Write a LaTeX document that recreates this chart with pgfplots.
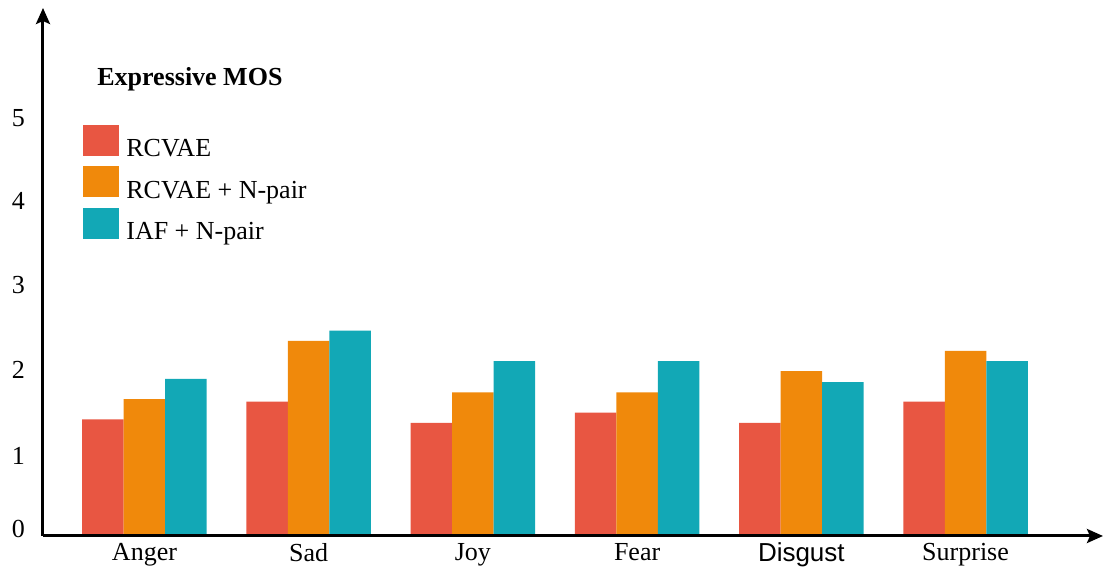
\documentclass[border=0pt]{standalone}
\usepackage{pgfplots}
\pgfplotsset{compat=1.18}
\usepackage{pgfplotstable}
\usepackage{fontspec}
\setmainfont{Liberation Serif}
\setsansfont{Liberation Sans}
\usetikzlibrary{arrows.meta}
\definecolor{cRed}{RGB}{232,86,66}
\definecolor{cOrange}{RGB}{240,137,11}
\definecolor{cTeal}{RGB}{18,168,182}
\pgfplotstableread{
x a b c
0 1.38 1.62 1.86
1 1.59 2.31 2.43
2 1.34 1.70 2.07
3 1.46 1.70 2.07
4 1.34 1.95 1.82
5 1.59 2.19 2.07
}\mos
\pgfplotsset{sqlegend/.style={legend image code/.code={\fill[##1] (0pt,0.5pt) rectangle (18pt,16pt);}}}
\begin{document}
\begin{tikzpicture}[font=\fontsize{13}{15.6}\selectfont]
\useasboundingbox (-21.5pt,-17.5pt) rectangle (531pt,268pt);
\begin{axis}[
  at={(0,0)}, anchor=south west,
  scale only axis, width=530pt, height=264pt,
  xmin=-0.618, xmax=5.837, ymin=0, ymax=6.249,
  axis lines=left,
  axis on top,
  axis line style={line width=1.5pt, -{Stealth[length=8pt,width=7pt,inset=1.5pt]}},
  ybar=0pt, bar width=20.75pt,
  xtick={0,1,2,3,4,5},
  xticklabels={Anger,Sad,Joy,Fear,{\sffamily Disgust},Surprise},
  ytick={0.083,0.947,1.964,2.970,3.964,4.947},
  yticklabels={0,1,2,3,4,5},
  major tick length=0pt,
  yticklabel style={xshift=-5.5pt},
  legend cell align=left,
  legend style={at={(0.0377,0.780)}, anchor=north west, draw=none, fill=none,
    inner sep=0pt, row sep=0pt, column sep=3.5pt,
    nodes={inner sep=0pt, text height=15pt, text depth=4.75pt, anchor=base west}},
]
\addplot[fill=cRed, draw=none, sqlegend] table[x=x,y=a]{\mos};
\addlegendentry{RCVAE}
\addplot[fill=cOrange, draw=none, sqlegend] table[x=x,y=b]{\mos};
\addlegendentry{RCVAE + N-pair}
\addplot[fill=cTeal, draw=none, sqlegend] table[x=x,y=c]{\mos};
\addlegendentry{IAF + N-pair}
\node[anchor=base west, inner sep=0pt, font=\fontsize{13}{15.6}\selectfont\bfseries] at (rel axis cs:0.0509,0.854) {Expressive MOS};
\end{axis}
\end{tikzpicture}
\end{document}
